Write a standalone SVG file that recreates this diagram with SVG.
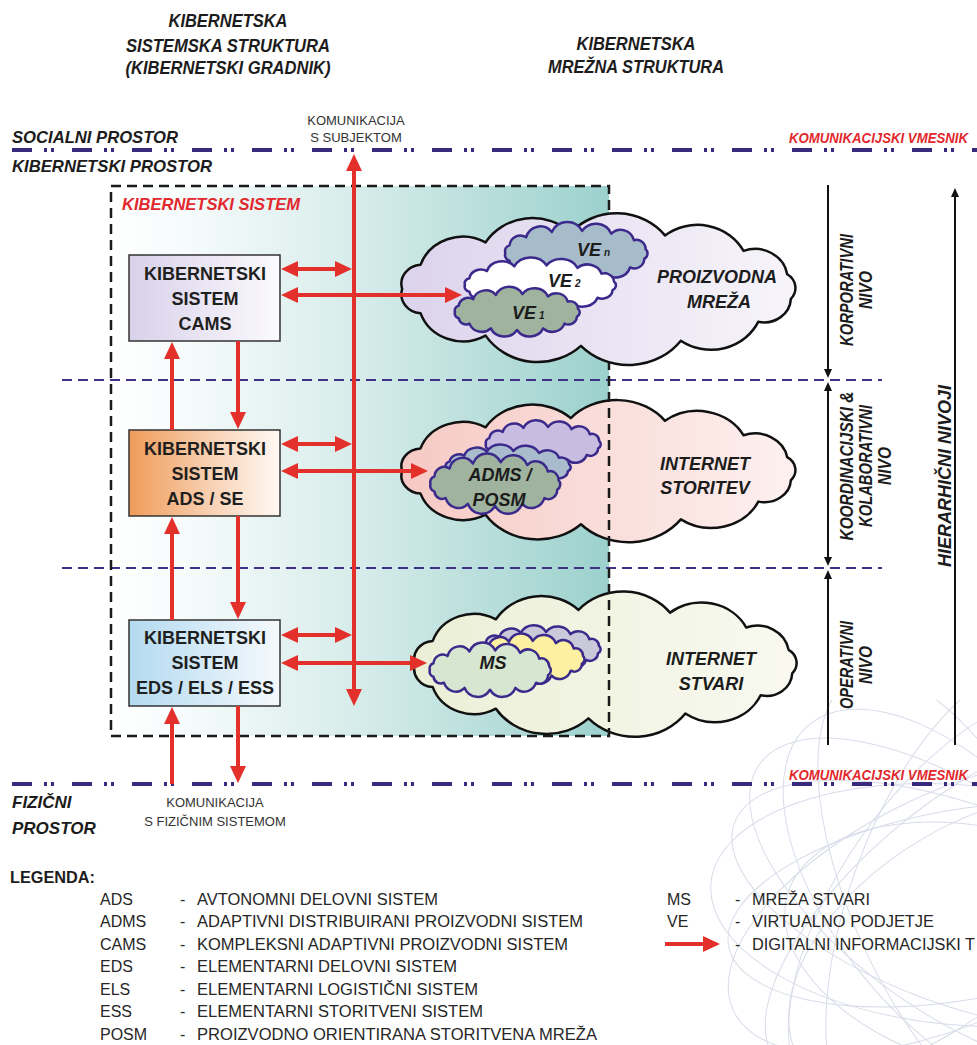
<svg xmlns="http://www.w3.org/2000/svg" width="977" height="1045" viewBox="0 0 977 1045">
<defs>
<style>
text{font-family:'Liberation Sans',Arial,sans-serif;fill:#1c1c1c}
.bi{font-weight:700;font-style:italic}
.c{text-anchor:middle}
.red{fill:#e2282d}
.hd{font-size:19px}
.sp{font-size:17px}
.box{font-size:18px;font-weight:700;text-anchor:middle;fill:#1f1f1f}
.cl{font-size:18px;font-weight:700;font-style:italic;text-anchor:middle}
.ve{font-size:18px;font-weight:700;font-style:italic}
.small{font-size:13px;text-anchor:middle;fill:#333}
.lv{font-size:17.5px;font-weight:700;font-style:italic;text-anchor:middle}
.lg{font-size:16px;fill:#262626}
.dashdot{stroke:#3a2a7e;stroke-width:4;stroke-dasharray:20 12 3 4 3 18;stroke-dashoffset:-12;fill:none}
.lvline{stroke:#3f3186;stroke-width:2;stroke-dasharray:10 6;fill:none}
.frame{stroke:#1a1a1a;stroke-width:2.5;stroke-dasharray:10 6;fill:none}
.bx{stroke:#333;stroke-width:1.5}
.ra{stroke:#e4302b;stroke-width:4;fill:none;marker-end:url(#rh)}
.ra2{stroke:#e4302b;stroke-width:4;fill:none;marker-start:url(#rh);marker-end:url(#rh)}
.ka{stroke:#111;stroke-width:2;fill:none;marker-end:url(#kh)}
.ka2{stroke:#111;stroke-width:2;fill:none;marker-start:url(#kh);marker-end:url(#kh)}
.bigc{stroke:#111;stroke-width:2.5;stroke-linejoin:round}
.smc{stroke:#3b2a8c;stroke-width:2.5;stroke-linejoin:round}
.sw{fill:none;stroke:#a9b3cf;stroke-width:1;opacity:.45}
</style>
<linearGradient id="gRect" x1="0" y1="0" x2="1" y2="0">
<stop offset="0" stop-color="#ffffff"/><stop offset="0.15" stop-color="#f6fbfb"/><stop offset="0.5" stop-color="#d6ecea"/><stop offset="1" stop-color="#9cd1cd"/>
</linearGradient>
<linearGradient id="gCams" x1="0" y1="0" x2="1" y2="0"><stop offset="0" stop-color="#d8d1ea"/><stop offset="1" stop-color="#fbfafd"/></linearGradient>
<linearGradient id="gAds" x1="0" y1="0" x2="1" y2="0"><stop offset="0" stop-color="#ef9b58"/><stop offset="0.55" stop-color="#f8d2b5"/><stop offset="1" stop-color="#fff9f4"/></linearGradient>
<linearGradient id="gEds" x1="0" y1="0" x2="1" y2="0"><stop offset="0" stop-color="#b3daf1"/><stop offset="1" stop-color="#f5f9fc"/></linearGradient>
<linearGradient id="gTop" x1="0" y1="0" x2="1" y2="0"><stop offset="0" stop-color="#dcd3ec"/><stop offset="1" stop-color="#f7f5fa"/></linearGradient>
<linearGradient id="gMid" x1="0" y1="0" x2="1" y2="0"><stop offset="0" stop-color="#f6c9c4"/><stop offset="1" stop-color="#fdf1ef"/></linearGradient>
<linearGradient id="gBot" x1="0" y1="0" x2="1" y2="0"><stop offset="0" stop-color="#ebefd6"/><stop offset="1" stop-color="#f9f9f1"/></linearGradient>
<marker id="rh" viewBox="0 0 17 16" markerUnits="userSpaceOnUse" markerWidth="17" markerHeight="16" refX="5" refY="8" orient="auto-start-reverse"><path d="M0,0 L17,8 L0,16 Z" fill="#e4302b"/></marker>
<marker id="kh" viewBox="0 0 9 8" markerUnits="userSpaceOnUse" markerWidth="9" markerHeight="8" refX="3" refY="4" orient="auto-start-reverse"><path d="M0,0 L9,4 L0,8 Z" fill="#111"/></marker>
<!-- large network cloud, centred on the origin -->
<path id="cloudL" vector-effect="non-scaling-stroke" d="M-192,0 A20,20 0 0 1 -174,-25.4 A44,44 0 0 1 -110.2,-49.1 A54,54 0 0 1 -26.7,-59.4 A60,60 0 0 1 65.7,-56.4 A51,51 0 0 1 142.7,-40.1 A32,32 0 0 1 185.5,-15.5 A17,17 0 0 1 189.1,10.4 A26,26 0 0 1 157.2,34.4 A51,51 0 0 1 81.2,54.4 A64,64 0 0 1 -16.7,59.8 A61,61 0 0 1 -110.2,49.1 A44,44 0 0 1 -174,25.4 A20,20 0 0 1 -192,0 Z"/>
<!-- small member cloud -->
<path id="cloudS" vector-effect="non-scaling-stroke" d="M-62,0 A5,5 0 0 1 -58.3,-6.5 A9.5,9.5 0 0 1 -43.8,-13.4 A13,13 0 0 1 -21.2,-17.9 A15,15 0 0 1 5.4,-18.9 A15,15 0 0 1 31,-16.5 A12,12 0 0 1 50.8,-10.9 A8,8 0 0 1 61.1,-3.3 A5,5 0 0 1 59.9,4.9 A8.5,8.5 0 0 1 47.5,12.2 A13,13 0 0 1 26.2,17.2 A15,15 0 0 1 0,19 A15,15 0 0 1 -26.2,17.2 A13,13 0 0 1 -47.5,12.2 A7.5,7.5 0 0 1 -58.3,6.5 A5,5 0 0 1 -62,0 Z"/>
<clipPath id="swClip"><rect x="690" y="700" width="287" height="345"/></clipPath>
</defs>

<rect width="977" height="1045" fill="#ffffff"/>

<!-- decorative wireframe sphere, lower right -->
<g clip-path="url(#swClip)" class="sw">
<ellipse cx="960" cy="905" rx="250" ry="110" transform="rotate(-70 960 905)"/>
<ellipse cx="960" cy="905" rx="245" ry="120" transform="rotate(-55 960 905)"/>
<ellipse cx="960" cy="905" rx="240" ry="100" transform="rotate(-40 960 905)"/>
<ellipse cx="960" cy="905" rx="250" ry="115" transform="rotate(-25 960 905)"/>
<ellipse cx="960" cy="905" rx="235" ry="95" transform="rotate(-10 960 905)"/>
<ellipse cx="960" cy="905" rx="250" ry="120" transform="rotate(5 960 905)"/>
<ellipse cx="960" cy="905" rx="240" ry="100" transform="rotate(20 960 905)"/>
<ellipse cx="960" cy="905" rx="245" ry="110" transform="rotate(35 960 905)"/>
<ellipse cx="960" cy="905" rx="235" ry="120" transform="rotate(50 960 905)"/>
<ellipse cx="960" cy="905" rx="250" ry="105" transform="rotate(65 960 905)"/>
<ellipse cx="990" cy="950" rx="220" ry="130" transform="rotate(-30 990 950)"/>
<ellipse cx="990" cy="950" rx="210" ry="120" transform="rotate(15 990 950)"/>
</g>

<!-- headings -->
<g id="headings">
<text class="bi c hd" x="228" y="27" textLength="119" lengthAdjust="spacingAndGlyphs">KIBERNETSKA</text>
<text class="bi c hd" x="228" y="52" textLength="204" lengthAdjust="spacingAndGlyphs">SISTEMSKA STRUKTURA</text>
<text class="bi c hd" x="228" y="74" textLength="205" lengthAdjust="spacingAndGlyphs">(KIBERNETSKI GRADNIK)</text>
<text class="bi c hd" x="636" y="50" textLength="119" lengthAdjust="spacingAndGlyphs">KIBERNETSKA</text>
<text class="bi c hd" x="636" y="73" textLength="176" lengthAdjust="spacingAndGlyphs">MREŽNA STRUKTURA</text>
</g>

<!-- space boundaries -->
<g id="spaces">
<text class="bi sp" x="12" y="143" textLength="166" lengthAdjust="spacingAndGlyphs">SOCIALNI PROSTOR</text>
<text class="bi sp" x="12" y="172" textLength="200" lengthAdjust="spacingAndGlyphs">KIBERNETSKI PROSTOR</text>
<text class="bi red" x="789" y="143" font-size="14" textLength="179" lengthAdjust="spacingAndGlyphs">KOMUNIKACIJSKI VMESNIK</text>
<text class="bi red" x="789" y="780" font-size="14" textLength="179" lengthAdjust="spacingAndGlyphs">KOMUNIKACIJSKI VMESNIK</text>
<text class="bi sp" x="12" y="808">FIZIČNI</text>
<text class="bi sp" x="12" y="834">PROSTOR</text>
<text class="small" x="356" y="125">KOMUNIKACIJA</text>
<text class="small" x="356" y="142">S SUBJEKTOM</text>
<text class="small" x="215" y="807">KOMUNIKACIJA</text>
<text class="small" x="215" y="826">S FIZIČNIM SISTEMOM</text>
<line class="dashdot" x1="0" y1="150" x2="977" y2="150"/>
<line class="dashdot" x1="0" y1="784" x2="977" y2="784"/>
</g>

<!-- cyber-system frame background -->
<rect x="111" y="186" width="498" height="550" fill="url(#gRect)"/>

<!-- level separators -->
<g id="levels">
<line class="lvline" x1="62" y1="380" x2="882" y2="380"/>
<line class="lvline" x1="62" y1="568" x2="882" y2="568"/>
</g>

<!-- service network cloud -->
<g id="internet-storitev">
<use href="#cloudL" class="bigc" fill="url(#gMid)" transform="translate(598,471) scale(1.02,0.89)"/>
<use href="#cloudS" class="smc" fill="#c8bce0" transform="translate(543,444) scale(0.92,0.9)"/>
<use href="#cloudS" class="smc" fill="#a9bccd" transform="translate(508,467) scale(1,0.85)"/>
<use href="#cloudS" class="smc" fill="#9fb39e" transform="translate(495,484) scale(1.04,1.15)"/>
<text class="cl" x="500" y="481">ADMS /</text>
<text class="cl" x="499" y="506">POSM</text>
<text class="cl" x="705" y="470">INTERNET</text>
<text class="cl" x="705" y="494">STORITEV</text>
</g>

<!-- things network cloud -->
<g id="internet-stvari">
<use href="#cloudL" class="bigc" fill="url(#gBot)" transform="translate(605,664) scale(0.99,0.91)"/>
<use href="#cloudS" class="smc" fill="#c9c9d9" transform="translate(541,649) scale(0.95,0.9)"/>
<use href="#cloudS" class="smc" fill="#fdf0a0" transform="translate(528,659) scale(0.9,0.96)"/>
<use href="#cloudS" class="smc" fill="#d7e6d0" transform="translate(490,670) scale(0.97,1.04)"/>
<text class="cl" x="493" y="669">MS</text>
<text class="cl" x="711" y="665">INTERNET</text>
<text class="cl" x="711" y="690">STVARI</text>
</g>

<!-- cyber-system frame -->
<g id="kibernetski-sistem">
<rect class="frame" x="111" y="186" width="498" height="550"/>
<text class="bi red" x="122" y="210" font-size="16.5" textLength="178" lengthAdjust="spacingAndGlyphs">KIBERNETSKI SISTEM</text>
</g>

<!-- production network cloud -->
<g id="proizvodna-mreza">
<use href="#cloudL" class="bigc" fill="url(#gTop)" transform="translate(598,289) scale(1.02,0.95)"/>
<use href="#cloudS" class="smc" fill="#a7bccb" transform="translate(576,253) scale(1.14,1.17)"/>
<use href="#cloudS" class="smc" fill="#ffffff" transform="translate(540,285) scale(1.21,1.04)"/>
<use href="#cloudS" class="smc" fill="#9fb39f" transform="translate(517,312) scale(1,0.95)"/>
<text class="ve" x="577" y="256">VE<tspan font-size="10" dx="3">n</tspan></text>
<text class="ve" x="548" y="287">VE<tspan font-size="10" dx="3">2</tspan></text>
<text class="ve" x="512" y="319">VE<tspan font-size="10" dx="3">1</tspan></text>
<text class="cl" x="717" y="283">PROIZVODNA</text>
<text class="cl" x="719" y="308">MREŽA</text>
</g>

<!-- system blocks -->
<g id="cams">
<rect class="bx" x="129" y="255" width="151" height="86" fill="url(#gCams)"/>
<text class="box" x="205" y="280">KIBERNETSKI</text>
<text class="box" x="205" y="305">SISTEM</text>
<text class="box" x="205" y="330">CAMS</text>
</g>
<g id="ads-se">
<rect class="bx" x="129" y="430" width="151" height="86" fill="url(#gAds)"/>
<text class="box" x="205" y="455">KIBERNETSKI</text>
<text class="box" x="205" y="480">SISTEM</text>
<text class="box" x="205" y="505">ADS / SE</text>
</g>
<g id="eds-els-ess">
<rect class="bx" x="129" y="620" width="151" height="86" fill="url(#gEds)"/>
<text class="box" x="205" y="644">KIBERNETSKI</text>
<text class="box" x="205" y="669">SISTEM</text>
<text class="box" x="205" y="694">EDS / ELS / ESS</text>
</g>

<!-- information flows -->
<g id="connectors">
<line class="ra2" x1="354" y1="166" x2="354" y2="694"/>
<line class="ra2" x1="293" y1="269" x2="340" y2="269"/>
<line class="ra2" x1="293" y1="295" x2="450" y2="295"/>
<line class="ra2" x1="293" y1="444" x2="340" y2="444"/>
<line class="ra2" x1="293" y1="471" x2="416" y2="471"/>
<line class="ra2" x1="293" y1="635" x2="340" y2="635"/>
<line class="ra2" x1="293" y1="663" x2="415" y2="663"/>
<line class="ra" x1="172" y1="430" x2="172" y2="354"/>
<line class="ra" x1="172" y1="620" x2="172" y2="529"/>
<line class="ra" x1="172" y1="784" x2="172" y2="719"/>
<line class="ra" x1="238" y1="341" x2="238" y2="417"/>
<line class="ra" x1="238" y1="516" x2="238" y2="607"/>
<line class="ra" x1="238" y1="706" x2="238" y2="771"/>
<line class="ka" x1="828" y1="185" x2="828" y2="372"/>
<line class="ka2" x1="828" y1="388" x2="828" y2="560"/>
<line class="ka" x1="828" y1="745" x2="828" y2="576"/>
<line class="ka" x1="955" y1="745" x2="955" y2="194"/>
</g>

<!-- hierarchy level labels -->
<g id="level-labels">
<text class="lv" transform="translate(853,290) rotate(-90)" textLength="112" lengthAdjust="spacingAndGlyphs">KORPORATIVNI</text>
<text class="lv" transform="translate(872,290) rotate(-90)" textLength="38" lengthAdjust="spacingAndGlyphs">NIVO</text>
<text class="lv" transform="translate(853,466) rotate(-90)" textLength="149" lengthAdjust="spacingAndGlyphs">KOORDINACIJSKI &amp;</text>
<text class="lv" transform="translate(872,466) rotate(-90)" textLength="122" lengthAdjust="spacingAndGlyphs">KOLABORATIVNI</text>
<text class="lv" transform="translate(891,466) rotate(-90)" textLength="38" lengthAdjust="spacingAndGlyphs">NIVO</text>
<text class="lv" transform="translate(853,665) rotate(-90)" textLength="88" lengthAdjust="spacingAndGlyphs">OPERATIVNI</text>
<text class="lv" transform="translate(872,665) rotate(-90)" textLength="38" lengthAdjust="spacingAndGlyphs">NIVO</text>
<text class="lv" transform="translate(951,476) rotate(-90)" textLength="182" lengthAdjust="spacingAndGlyphs">HIERARHIČNI NIVOJI</text>
</g>

<!-- legend -->
<g id="legend">
<text x="10" y="883" font-size="16" font-weight="700" textLength="85" lengthAdjust="spacingAndGlyphs">LEGENDA:</text>
<text class="lg" x="100" y="905">ADS</text><text class="lg" x="180" y="905">-</text><text class="lg" x="197" y="905" textLength="241" lengthAdjust="spacingAndGlyphs">AVTONOMNI DELOVNI SISTEM</text>
<text class="lg" x="100" y="927">ADMS</text><text class="lg" x="180" y="927">-</text><text class="lg" x="197" y="927" textLength="386" lengthAdjust="spacingAndGlyphs">ADAPTIVNI DISTRIBUIRANI PROIZVODNI SISTEM</text>
<text class="lg" x="100" y="950">CAMS</text><text class="lg" x="180" y="950">-</text><text class="lg" x="197" y="950" textLength="371" lengthAdjust="spacingAndGlyphs">KOMPLEKSNI ADAPTIVNI PROIZVODNI SISTEM</text>
<text class="lg" x="100" y="972">EDS</text><text class="lg" x="180" y="972">-</text><text class="lg" x="197" y="972" textLength="260" lengthAdjust="spacingAndGlyphs">ELEMENTARNI DELOVNI SISTEM</text>
<text class="lg" x="100" y="995">ELS</text><text class="lg" x="180" y="995">-</text><text class="lg" x="197" y="995" textLength="281" lengthAdjust="spacingAndGlyphs">ELEMENTARNI LOGISTIČNI SISTEM</text>
<text class="lg" x="100" y="1017">ESS</text><text class="lg" x="180" y="1017">-</text><text class="lg" x="197" y="1017" textLength="286" lengthAdjust="spacingAndGlyphs">ELEMENTARNI STORITVENI SISTEM</text>
<text class="lg" x="100" y="1040">POSM</text><text class="lg" x="180" y="1040">-</text><text class="lg" x="197" y="1040" textLength="400" lengthAdjust="spacingAndGlyphs">PROIZVODNO ORIENTIRANA STORITVENA MREŽA</text>
<text class="lg" x="667" y="905">MS</text><text class="lg" x="735" y="905">-</text><text class="lg" x="752" y="905" textLength="118" lengthAdjust="spacingAndGlyphs">MREŽA STVARI</text>
<text class="lg" x="667" y="927">VE</text><text class="lg" x="735" y="927">-</text><text class="lg" x="752" y="927" textLength="182" lengthAdjust="spacingAndGlyphs">VIRTUALNO PODJETJE</text>
<line class="ra" x1="665" y1="944" x2="708" y2="944"/>
<text class="lg" x="735" y="950">-</text><text class="lg" x="752" y="950" textLength="223" lengthAdjust="spacingAndGlyphs">DIGITALNI INFORMACIJSKI T</text>
</g>
</svg>
